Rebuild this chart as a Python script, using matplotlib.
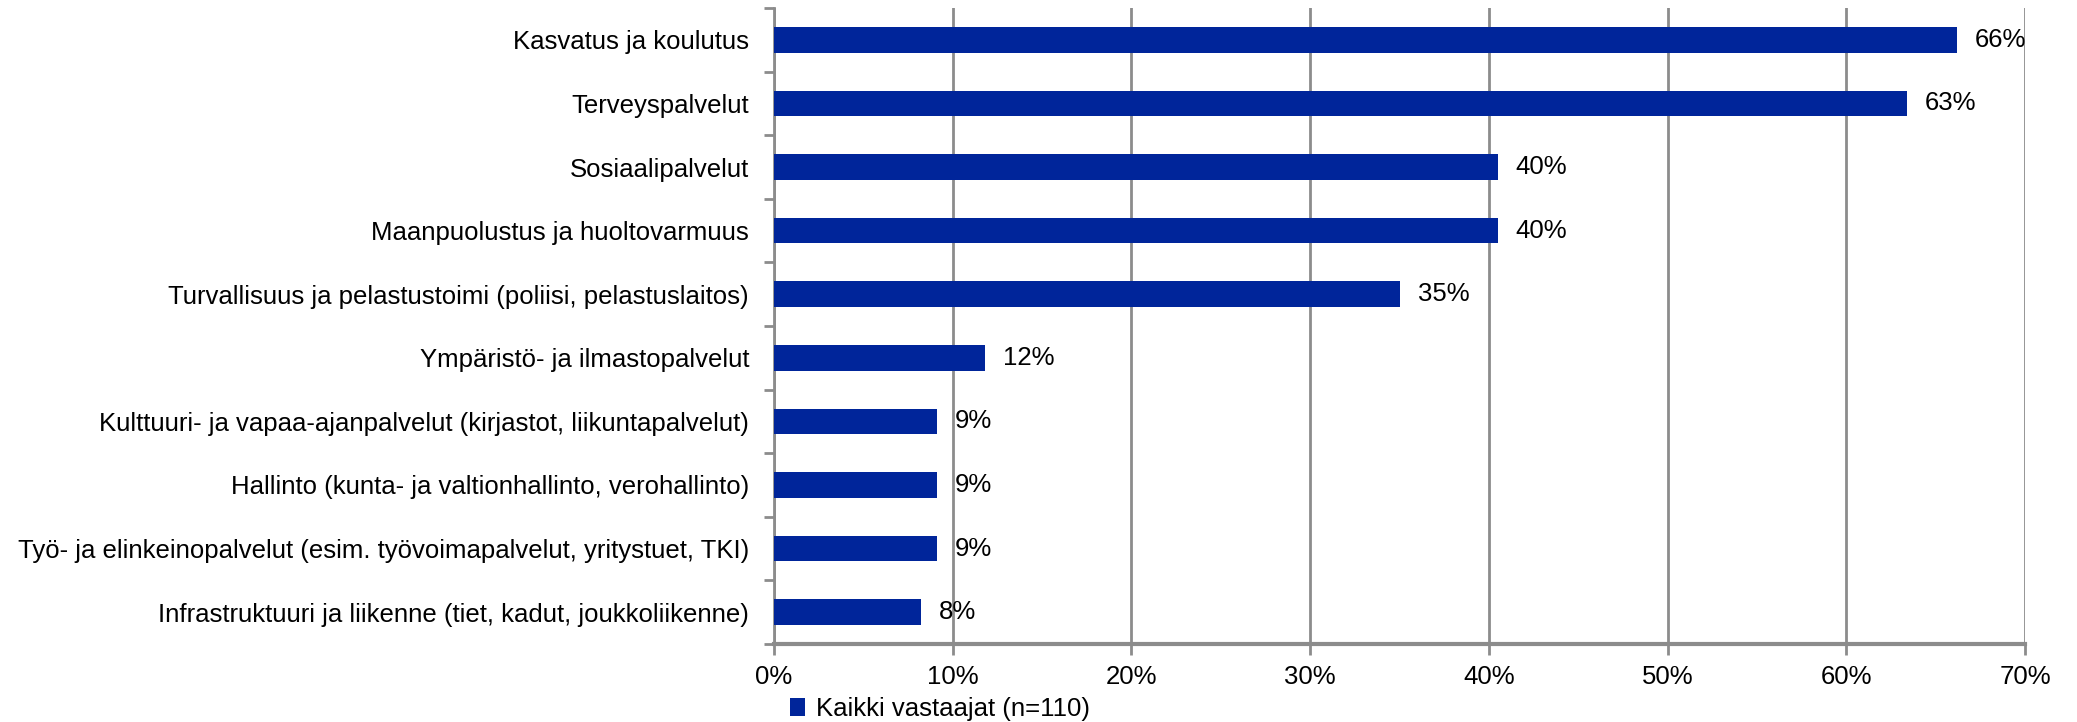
import matplotlib
matplotlib.use("Agg")
import matplotlib.pyplot as plt
from matplotlib.ticker import FixedLocator, NullFormatter

categories = [
    "Kasvatus ja koulutus",
    "Terveyspalvelut",
    "Sosiaalipalvelut",
    "Maanpuolustus ja huoltovarmuus",
    "Turvallisuus ja pelastustoimi (poliisi, pelastuslaitos)",
    "Ympäristö- ja ilmastopalvelut",
    "Kulttuuri- ja vapaa-ajanpalvelut (kirjastot, liikuntapalvelut)",
    "Hallinto (kunta- ja valtionhallinto, verohallinto)",
    "Työ- ja elinkeinopalvelut (esim. työvoimapalvelut, yritystuet, TKI)",
    "Infrastruktuuri ja liikenne (tiet, kadut, joukkoliikenne)",
]
values = [66.2, 63.4, 40.5, 40.5, 35.0, 11.8, 9.1, 9.1, 9.1, 8.2]
labels = ["66%", "63%", "40%", "40%", "35%", "12%", "9%", "9%", "9%", "8%"]
xticks = [0, 10, 20, 30, 40, 50, 60, 70]
series_name = "Kaikki vastaajat (n=110)"

bar_color = "#00259A"
grid_color = "#8C8C8C"
font = "Liberation Sans"
fs = 18.5

fig = plt.figure(figsize=(20.77, 7.22), dpi=100)
ax = fig.add_axes([774/2077, 1 - 644/722, (2025 - 774)/2077, (644 - 8)/722])

n = len(categories)
ypos = list(range(n))
bars = ax.barh(ypos, values, height=0.4, color=bar_color, zorder=3, label=series_name)
ax.set_ylim(n - 0.5, -0.5)
ax.set_xlim(0, 70)

for y, v, t in zip(ypos, values, labels):
    ax.annotate(t, (v, y), xytext=(13, 0), textcoords="offset points",
                ha="left", va="center", fontsize=fs, family=font, color="#000000")

ax.set_yticks(ypos)
ax.set_yticklabels(categories, fontsize=fs, family=font)
ax.tick_params(axis="y", which="major", length=0, pad=18)
ax.yaxis.set_minor_locator(FixedLocator([i - 0.5 for i in range(n + 1)]))
ax.yaxis.set_minor_formatter(NullFormatter())
ax.tick_params(axis="y", which="minor", length=7, width=2, color=grid_color, left=True)

ax.set_xticks(xticks)
ax.set_xticklabels([f"{x}%" for x in xticks], fontsize=fs, family=font)
ax.tick_params(axis="x", length=8, width=2, color=grid_color, pad=7)

ax.grid(axis="x", color=grid_color, linewidth=2, zorder=0)
for s in ["top", "right"]:
    ax.spines[s].set_visible(False)
ax.spines["left"].set_color(grid_color)
ax.spines["left"].set_linewidth(2)
ax.spines["bottom"].set_color(grid_color)
ax.spines["bottom"].set_linewidth(3)

fig.legend(handles=[bars], labels=[series_name], loc="center left",
           bbox_to_anchor=(790/2077, 1 - 709/722), frameon=False,
           prop={"family": font, "size": fs}, handlelength=0.6, handleheight=0.7,
           handletextpad=0.4, borderaxespad=0, borderpad=0)

fig.savefig("out.png", dpi=100)
